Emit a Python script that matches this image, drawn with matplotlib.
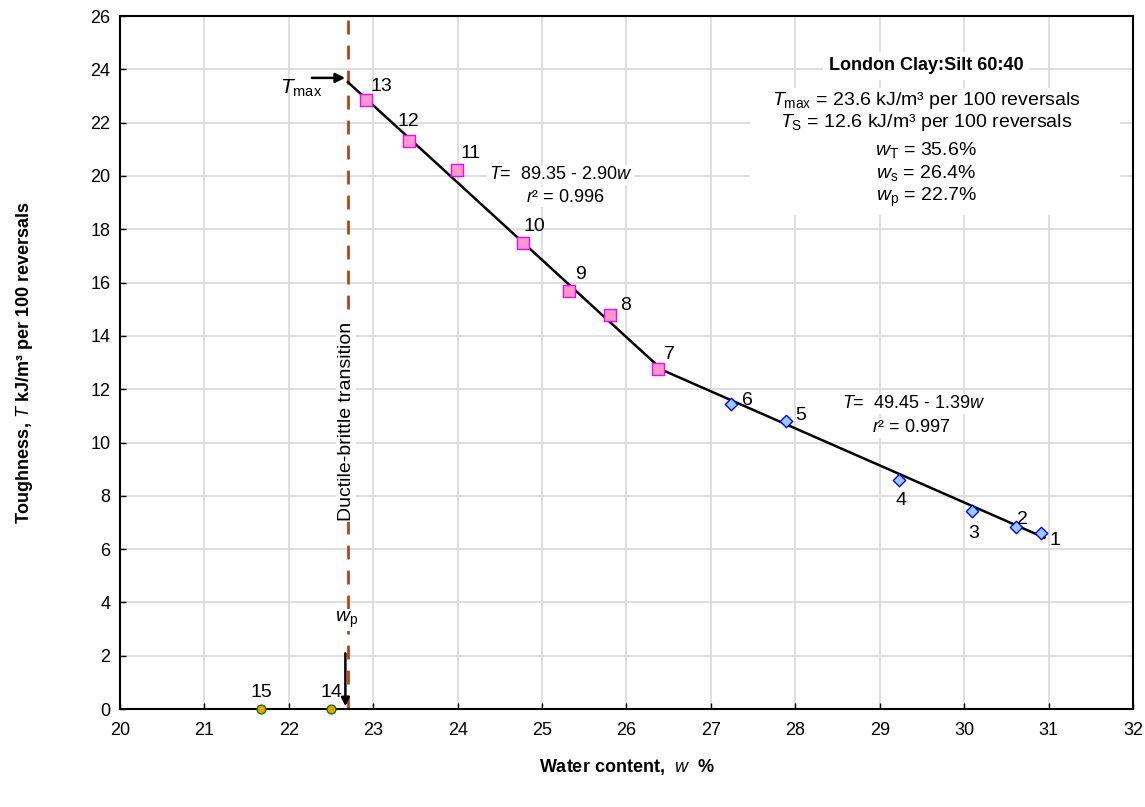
import matplotlib.pyplot as plt
from matplotlib.patches import Rectangle

plt.rcParams['font.family'] = ['Liberation Sans', 'DejaVu Sans']
plt.rcParams['mathtext.fontset'] = 'custom'
plt.rcParams['mathtext.rm'] = 'Liberation Sans'
plt.rcParams['mathtext.it'] = 'Liberation Sans:italic'
plt.rcParams['mathtext.bf'] = 'Liberation Sans:bold'

# data
w_square = [22.92, 23.42, 23.99, 24.77, 25.32, 25.80, 26.37]
t_square = [22.85, 21.31, 20.22, 17.49, 15.68, 14.78, 12.76]
lbl_square = ['13', '12', '11', '10', '9', '8', '7']

w_diamond = [27.24, 27.89, 29.23, 30.09, 30.62, 30.91]
t_diamond = [11.44, 10.81, 8.59, 7.43, 6.83, 6.60]
lbl_diamond = ['6', '5', '4', '3', '2', '1']

w_circle = [22.50, 21.67]
t_circle = [0.0, 0.0]
lbl_circle = ['14', '15']

# fitted lines
fit1_w = [22.7, 26.42]
fit2_w = [26.42, 30.95]
w_p = 22.7
T_max = 23.6

fig = plt.figure(figsize=(11.45, 8.07), dpi=100)
ax = fig.add_axes([0.1048, 0.1214, 0.8847, 0.8587])

ax.set_xlim(20, 32)
ax.set_ylim(0, 26)
ax.set_xticks(range(20, 33))
ax.set_yticks(range(0, 27, 2))
ax.grid(True, color='#d9d9d9', lw=1.2, zorder=0)
ax.tick_params(direction='in', length=4, labelsize=13, width=1)
ax.tick_params(axis='x', pad=9)
ax.tick_params(axis='y', pad=7)
for s in ax.spines.values():
    s.set_linewidth(1.5)

# fit lines
ax.plot(fit1_w, [89.35 - 2.90 * w for w in fit1_w], color='black', lw=1.8, zorder=3)
ax.plot(fit2_w, [49.45 - 1.39 * w for w in fit2_w], color='black', lw=1.8, zorder=3)

# plastic limit line
ax.axvline(w_p, color='#b5441b', lw=2, ls=(0, (5, 4)), zorder=2)

ax.scatter(w_square, t_square, marker='s', s=70, facecolor='#ff99cc', edgecolor='#ff00ff', lw=1, zorder=4)
ax.scatter(w_diamond, t_diamond, marker='D', s=40, facecolor='#99ccff', edgecolor='#0000ff', lw=1, zorder=4)
ax.scatter(w_circle, t_circle, marker='o', s=40, facecolor='#ff9900', edgecolor='#008000', lw=1, zorder=5, clip_on=False)

# point labels (offsets in pixels)
sq_off = [(15, 14), (0, 20), (14, 17), (12, 16), (11, 17), (16, 10), (12, 14)]
for w, t, l, o in zip(w_square, t_square, lbl_square, sq_off):
    ax.annotate(l, (w, t), xytext=o, textcoords='offset pixels', ha='center', va='center', fontsize=14, zorder=6)
di_off = [(16, 4), (15, 5), (2, -20), (2, -22), (6, 7), (14, -7)]
for w, t, l, o in zip(w_diamond, t_diamond, lbl_diamond, di_off):
    ax.annotate(l, (w, t), xytext=o, textcoords='offset pixels', ha='center', va='center', fontsize=14, zorder=6)
for w, t, l in zip(w_circle, t_circle, lbl_circle):
    ax.annotate(l, (w, t), xytext=(0, 17), textcoords='offset pixels', ha='center', va='center', fontsize=14, zorder=6)

# equations
wb = dict(facecolor='white', edgecolor='none', pad=1)
ax.text(25.22, 20.05, r'$\it{T}$=  89.35 - 2.90$\it{w}$', ha='center', va='center', fontsize=13, bbox=wb, zorder=5)
ax.text(25.28, 19.2, r'$\it{r}$² = 0.996', ha='center', va='center', fontsize=13, bbox=wb, zorder=5)
ax.text(29.4, 11.45, r'$\it{T}$=  49.45 - 1.39$\it{w}$', ha='center', va='center', fontsize=13, bbox=wb, zorder=5)
ax.text(29.37, 10.55, r'$\it{r}$² = 0.997', ha='center', va='center', fontsize=13, bbox=wb, zorder=5)

# info box
ax.add_patch(Rectangle((0.622, 0.713), 0.365, 0.183, transform=ax.transAxes, facecolor='white', edgecolor='none', zorder=4))
ax.text(29.55, 24.13, 'London Clay:Silt 60:40', ha='center', va='center', fontsize=13, fontweight='bold',
        bbox=dict(facecolor='white', edgecolor='none', pad=4), zorder=5)
info = [r'$\it{T}_{\rm max}$ = 23.6 kJ/m³ per 100 reversals',
        r'$\it{T}_{\rm S}$ = 12.6 kJ/m³ per 100 reversals',
        r'$\it{w}_{\rm T}$ = 35.6%',
        r'$\it{w}_{\rm s}$ = 26.4%',
        r'$\it{w}_{\rm p}$ = 22.7%']
info_y = [22.85, 21.99, 20.98, 20.11, 19.21]
for s, y in zip(info, info_y):
    ax.text(29.55, y, s, ha='center', va='center', fontsize=14, zorder=5)

# ductile-brittle label
ax.text(w_p - 0.02, 10.8, 'Ductile-brittle transition', rotation=90, ha='center', va='center', fontsize=14,
        bbox=dict(facecolor='white', edgecolor='none', pad=1), zorder=5)

# T max arrow
ax.annotate('', xy=(w_p, 23.68), xytext=(22.24, 23.68),
            arrowprops=dict(arrowstyle='-|>', color='black', lw=1.8, mutation_scale=14), zorder=6)
ax.text(22.14, 23.3, r'$\it{T}_{\rm max}$', ha='center', va='center', fontsize=15, zorder=6)

# w_p arrow
ax.annotate('', xy=(w_p - 0.03, 0.0), xytext=(w_p - 0.03, 2.2),
            arrowprops=dict(arrowstyle='-|>', color='black', lw=1.8, mutation_scale=12), zorder=6)
ax.text(w_p - 0.02, 3.35, r'$\it{w}_{\rm p}$', ha='center', va='center', fontsize=14,
        bbox=dict(facecolor='white', edgecolor='none', pad=0.5), zorder=6)

ax.set_xlabel(r'Water content,  $\bf{\it{w}}$  %', fontsize=13, fontweight='bold', labelpad=13.5)
ax.set_ylabel(r'Toughness, $\bf{\it{T}}$ kJ/m³ per 100 reversals', fontsize=13, fontweight='bold', labelpad=40)

fig.savefig('out.png', dpi=100)
